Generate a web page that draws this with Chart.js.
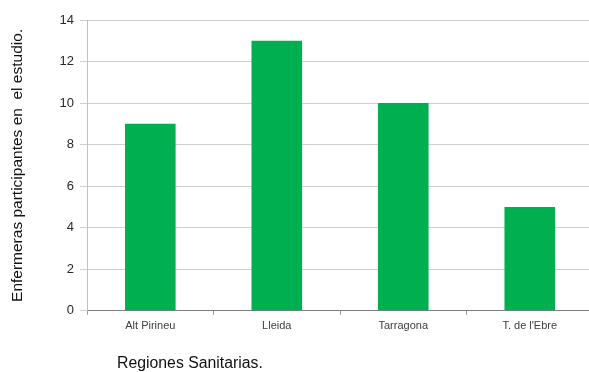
<!DOCTYPE html>
<html>
<head>
<meta charset="utf-8">
<script src="https://cdn.jsdelivr.net/npm/chart.js@4/dist/chart.umd.min.js"></script>
<style>
  html, body { margin: 0; padding: 0; background: #fff; overflow: hidden; }
  #wrap { width: 589px; height: 372px; overflow: hidden; }
  canvas { display: block; }
</style>
</head>
<body>
<div id="wrap"><canvas id="c" width="600" height="372"></canvas></div>
<script>
const regiones = ["Alt Pirineu", "Lleida", "Tarragona", "T. de l'Ebre"];
const enfermeras = [9, 13, 10, 5];
const yTitle = "Enfermeras participantes en  el estudio.";
const xTitle = "Regiones Sanitarias.";

// Axis title below the chart, drawn left of centre
const xTitlePlugin = {
  id: 'xTitle',
  afterDraw(chart) {
    const { ctx, chartArea } = chart;
    ctx.save();
    ctx.font = '15.8px "Liberation Sans", Arial, sans-serif';
    ctx.fillStyle = '#111';
    ctx.textBaseline = 'middle';
    ctx.fillText(xTitle, chartArea.left + 30, 364);
    ctx.restore();
  }
};

new Chart(document.getElementById('c'), {
  type: 'bar',
  data: {
    labels: regiones,
    datasets: [{
      data: enfermeras,
      backgroundColor: '#00b050',
      borderWidth: 0,
      barPercentage: 0.4,
      categoryPercentage: 1
    }]
  },
  options: {
    responsive: false,
    animation: false,
    layout: { padding: { top: 20, bottom: 34, left: 8, right: 7 } },
    plugins: { legend: { display: false }, tooltip: { enabled: false } },
    scales: {
      x: {
        offset: true,
        grid: { offset: true, drawOnChartArea: false, drawTicks: true, tickLength: 4, color: '#9a9a9a' },
        border: { color: '#7f7f7f' },
        ticks: { color: '#404040', font: { family: '"Liberation Sans", Arial, sans-serif', size: 11 }, padding: 5 }
      },
      y: {
        min: 0, max: 14,
        ticks: { stepSize: 2, color: '#2a2a2a', font: { family: '"Liberation Sans", Arial, sans-serif', size: 13 }, padding: 6 },
        grid: { color: '#d0d0d0', tickLength: 7 },
        border: { color: '#c0c0c0' },
        title: {
          display: true, text: yTitle, color: '#111',
          font: { family: '"Liberation Sans", Arial, sans-serif', size: 15.5 },
          padding: { top: 0, bottom: 27 }
        }
      }
    }
  },
  plugins: [xTitlePlugin]
});
</script>
</body>
</html>
